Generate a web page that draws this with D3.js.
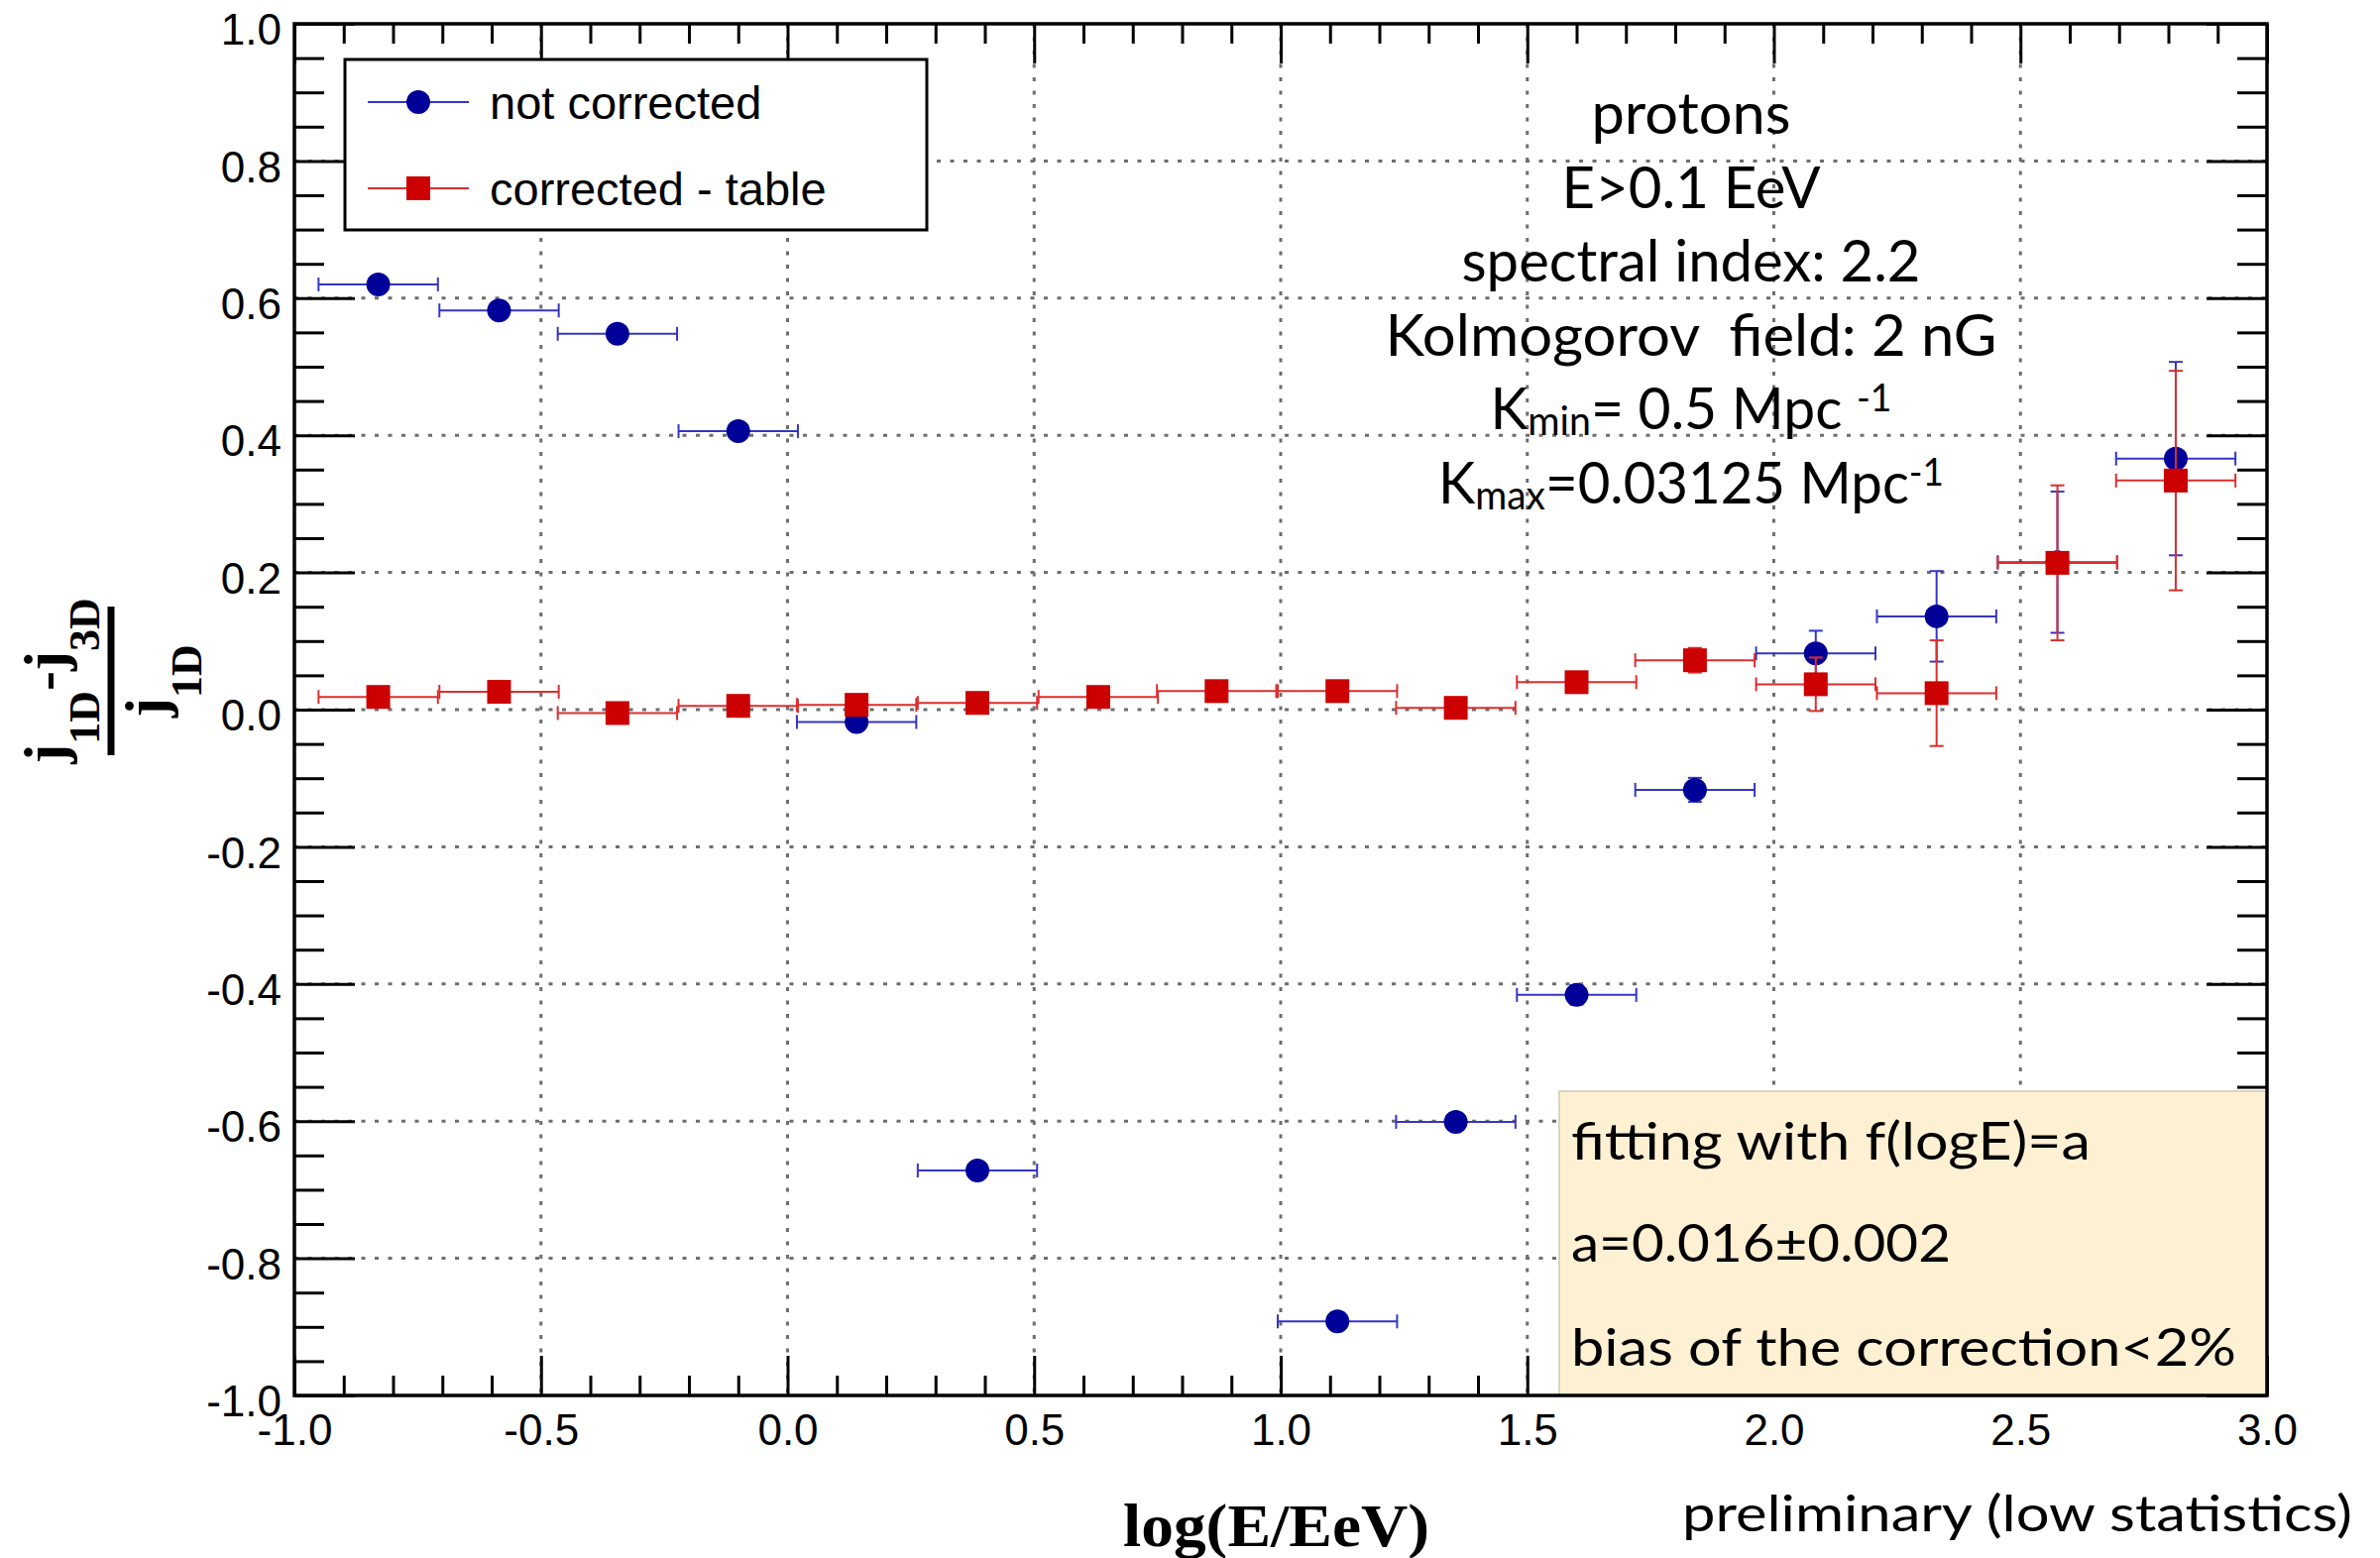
<!DOCTYPE html>
<html>
<head>
<meta charset="utf-8">
<script src="https://cdn.jsdelivr.net/npm/d3@7"></script>
<style>
  body { margin: 0; background: #fff; }
  svg { display: block; }
  text { white-space: pre; }
</style>
</head>
<body>
<div id="chart"></div>
<script>
// bin centres in log10(E/EeV), all bins share the same half width
const logE = [-0.83, -0.585, -0.345, -0.10, 0.14, 0.385, 0.63, 0.87, 1.115, 1.355, 1.60, 1.84, 2.085, 2.33, 2.575, 2.815];
const binHalfWidth = 0.121;

// (j1D - j3D) / j1D, null where the point is not on the plot
const notCorrected    = [0.620, 0.582, 0.548, 0.406, -0.018, -0.672, null, null, -0.892, -0.601, -0.416, -0.117, 0.082, 0.136, 0.215, 0.366];
const notCorrectedErr = [0.006, 0.006, 0.006, 0.007, 0.008, 0.010, null, null, 0.012, 0.012, 0.014, 0.0175, 0.033, 0.066, 0.103, 0.141];
const corrected       = [0.0185, 0.026, -0.005, 0.0055, 0.007, 0.0098, 0.0185, 0.027, 0.027, 0.0026, 0.040, 0.072, 0.037, 0.024, 0.214, 0.334];
const correctedErr    = [0.005, 0.005, 0.005, 0.005, 0.006, 0.006, 0.007, 0.008, 0.009, 0.010, 0.012, 0.018, 0.039, 0.077, 0.113, 0.160];

const xTickLabels = [-1.0, -0.5, 0.0, 0.5, 1.0, 1.5, 2.0, 2.5, 3.0];
const yTickLabels = [-1.0, -0.8, -0.6, -0.4, -0.2, 0.0, 0.2, 0.4, 0.6, 0.8, 1.0];
const xGrid = [-0.5, 0.0, 0.5, 1.0, 1.5, 2.0, 2.5];
const yGrid = [-0.8, -0.6, -0.4, -0.2, 0.0, 0.2, 0.4, 0.6, 0.8];

const legendLabels = ['not corrected', 'corrected - table'];

// text segments: [text, 'sub' | 'sup' | undefined]
const infoLines = [
    [['protons']],
    [['E>0.1 EeV']],
    [['spectral index: 2.2']],
    [['Kolmogorov  field: 2 nG']],
    [['K'], ['min', 'sub'], ['= 0.5 Mpc '], ['-1', 'sup']],
    [['K'], ['max', 'sub'], ['=0.03125 Mpc'], ['-1', 'sup']]
];
const fitLines = ['fitting with f(logE)=a', 'a=0.016\u00b10.002', 'bias of the correction<2%'];

document.addEventListener('DOMContentLoaded', function() {
    drawChart();
});

function drawChart() {
    const width = 2401;
    const height = 1572;
    const frame = { left: 297, right: 2287, top: 24, bottom: 1408 };
    const sansFont = 'Liberation Sans, Arial, Helvetica, sans-serif';
    const gillFont = 'Lato, "Open Sans", sans-serif';
    const serifFont = 'Liberation Serif, "Times New Roman", serif';

    const svg = d3.select('#chart')
        .append('svg')
        .attr('width', width)
        .attr('height', height);

    svg.append('rect').attr('width', width).attr('height', height).attr('fill', '#fff');

    const x = d3.scaleLinear().domain([-1, 3]).range([frame.left, frame.right]);
    const y = d3.scaleLinear().domain([-1, 1]).range([frame.bottom, frame.top]);

    const xMinor = d3.range(-10, 31).map(v => v / 10).filter(v => Math.round(v * 10) % 5 !== 0);
    const yMinor = d3.range(-20, 21).map(v => v / 20).filter(v => Math.round(v * 20) % 4 !== 0);

    // dotted grid
    const grid = svg.append('g')
        .attr('stroke', '#6e6e6e')
        .attr('stroke-width', 3)
        .attr('stroke-dasharray', '4 9.5');
    grid.selectAll('.vgrid').data(xGrid).join('line')
        .attr('class', 'vgrid')
        .attr('x1', d => x(d)).attr('x2', d => x(d))
        .attr('y1', frame.top).attr('y2', frame.bottom);
    grid.selectAll('.hgrid').data(yGrid).join('line')
        .attr('class', 'hgrid')
        .attr('x1', frame.left).attr('x2', frame.right)
        .attr('y1', d => y(d)).attr('y2', d => y(d));

    function styleAxis(g) {
        g.select('.domain').remove();
        g.selectAll('.tick line').attr('stroke', '#000').attr('stroke-width', 3);
        g.selectAll('.tick text')
            .attr('font-family', sansFont)
            .attr('font-size', 44)
            .attr('fill', '#000');
    }

    const fmt = d => d.toFixed(1);
    const noLabel = () => '';

    // bottom + top
    svg.append('g').attr('transform', `translate(0,${frame.bottom})`)
        .call(d3.axisBottom(x).tickValues(xTickLabels).tickSize(-40).tickPadding(19).tickFormat(fmt))
        .call(styleAxis);
    svg.append('g').attr('transform', `translate(0,${frame.bottom})`)
        .call(d3.axisBottom(x).tickValues(xMinor).tickSize(-20).tickFormat(noLabel))
        .call(styleAxis);
    svg.append('g').attr('transform', `translate(0,${frame.top})`)
        .call(d3.axisTop(x).tickValues(xTickLabels).tickSize(-40).tickFormat(noLabel))
        .call(styleAxis);
    svg.append('g').attr('transform', `translate(0,${frame.top})`)
        .call(d3.axisTop(x).tickValues(xMinor).tickSize(-20).tickFormat(noLabel))
        .call(styleAxis);

    // left + right
    svg.append('g').attr('transform', `translate(${frame.left},0)`)
        .call(d3.axisLeft(y).tickValues(yTickLabels).tickSize(-61).tickPadding(13).tickFormat(fmt))
        .call(styleAxis)
        .call(g => g.selectAll('.tick text').attr('dy', '0.47em'));
    svg.append('g').attr('transform', `translate(${frame.left},0)`)
        .call(d3.axisLeft(y).tickValues(yMinor).tickSize(-30).tickFormat(noLabel))
        .call(styleAxis);
    svg.append('g').attr('transform', `translate(${frame.right},0)`)
        .call(d3.axisRight(y).tickValues(yTickLabels).tickSize(-61).tickFormat(noLabel))
        .call(styleAxis);
    svg.append('g').attr('transform', `translate(${frame.right},0)`)
        .call(d3.axisRight(y).tickValues(yMinor).tickSize(-30).tickFormat(noLabel))
        .call(styleAxis);

    // data series
    drawSeries(svg, x, y, notCorrected, notCorrectedErr, '#000099', '#3535c4', 'circle');
    drawSeries(svg, x, y, corrected, correctedErr, '#cc0000', '#dc2e2e', 'square');

    // legend
    const legend = svg.append('g');
    legend.append('rect')
        .attr('x', 348).attr('y', 60).attr('width', 587).attr('height', 172)
        .attr('fill', '#fff').attr('stroke', '#000').attr('stroke-width', 3);
    const legendStyles = [
        { color: '#000099', bar: '#3535c4', shape: 'circle' },
        { color: '#cc0000', bar: '#dc2e2e', shape: 'square' }
    ];
    legendLabels.forEach((label, i) => {
        const cy = 103 + i * 87;
        const st = legendStyles[i];
        legend.append('line')
            .attr('x1', 371).attr('x2', 473).attr('y1', cy).attr('y2', cy)
            .attr('stroke', st.bar).attr('stroke-width', 2);
        appendMarker(legend, st.shape, 422, cy, st.color);
        legend.append('text')
            .attr('x', 494).attr('y', cy + 17)
            .attr('font-family', sansFont).attr('font-size', 47)
            .text(label);
    });

    // simulation info
    const infoCenter = 1706;
    const infoWidths = [201, 261, 463, 617, 405, 510];
    infoLines.forEach((segs, i) => {
        const base = 135 + i * 74.6;
        const t = svg.append('text')
            .attr('x', infoCenter - infoWidths[i] / 2)
            .attr('y', base)
            .attr('font-family', gillFont)
            .attr('font-size', 58)
            .attr('textLength', infoWidths[i])
            .attr('lengthAdjust', 'spacingAndGlyphs');
        let shift = 0;
        segs.forEach(([str, kind]) => {
            const target = kind === 'sub' ? 6 : kind === 'sup' ? -18 : 0;
            t.append('tspan')
                .attr('dy', target - shift)
                .attr('font-size', kind === 'sub' ? 40 : kind === 'sup' ? 38 : 58)
                .text(str);
            shift = target;
        });
    });

    // fit box
    svg.append('rect')
        .attr('x', 1573).attr('y', 1101)
        .attr('width', frame.right - 1573).attr('height', frame.bottom - 1101)
        .attr('fill', '#fef0d2')
        .attr('stroke', '#d9d4c8').attr('stroke-width', 2);
    const fitWidths = [524, 383, 671];
    fitLines.forEach((line, i) => {
        svg.append('text')
            .attr('x', 1585).attr('y', [1170, 1273, 1378][i])
            .attr('font-family', gillFont).attr('font-size', 52)
            .attr('textLength', fitWidths[i])
            .attr('lengthAdjust', 'spacingAndGlyphs')
            .text(line);
    });

    // frame on top
    svg.append('rect')
        .attr('x', frame.left).attr('y', frame.top)
        .attr('width', frame.right - frame.left).attr('height', frame.bottom - frame.top)
        .attr('fill', 'none').attr('stroke', '#000').attr('stroke-width', 3.5);

    // axis titles
    svg.append('text')
        .attr('x', 1133).attr('y', 1560)
        .attr('font-family', serifFont).attr('font-weight', 'bold').attr('font-size', 62)
        .attr('textLength', 309).attr('lengthAdjust', 'spacingAndGlyphs')
        .text('log(E/EeV)');

    svg.append('text')
        .attr('x', 1697).attr('y', 1545)
        .attr('font-family', gillFont).attr('font-size', 50)
        .attr('textLength', 676).attr('lengthAdjust', 'spacingAndGlyphs')
        .text('preliminary (low statistics)');

    drawYTitle(svg, serifFont);
}

function appendMarker(g, shape, cx, cy, color) {
    if (shape === 'circle') {
        g.append('circle').attr('cx', cx).attr('cy', cy).attr('r', 12).attr('fill', color);
    } else {
        g.append('rect').attr('x', cx - 12).attr('y', cy - 12)
            .attr('width', 24).attr('height', 24).attr('fill', color);
    }
}

function drawSeries(svg, x, y, values, errs, color, barColor, shape) {
    const pts = logE.map((v, i) => ({ x: v, y: values[i], e: errs[i] }))
        .filter(d => d.y !== null);
    const cap = 7;
    const g = svg.append('g');
    const bars = g.append('g').attr('stroke', barColor).attr('stroke-width', 2);

    pts.forEach(d => {
        const x0 = x(d.x - binHalfWidth), x1 = x(d.x + binHalfWidth);
        const y0 = y(d.y - d.e), y1 = y(d.y + d.e);
        const px = x(d.x), py = y(d.y);
        bars.append('line').attr('x1', x0).attr('x2', x1).attr('y1', py).attr('y2', py);
        bars.append('line').attr('x1', x0).attr('x2', x0).attr('y1', py - cap).attr('y2', py + cap);
        bars.append('line').attr('x1', x1).attr('x2', x1).attr('y1', py - cap).attr('y2', py + cap);
        bars.append('line').attr('x1', px).attr('x2', px).attr('y1', y0).attr('y2', y1);
        bars.append('line').attr('x1', px - cap).attr('x2', px + cap).attr('y1', y0).attr('y2', y0);
        bars.append('line').attr('x1', px - cap).attr('x2', px + cap).attr('y1', y1).attr('y2', y1);
    });

    pts.forEach(d => appendMarker(g, shape, x(d.x), y(d.y), color));
}

function drawYTitle(svg, serifFont) {
    // fraction written sideways, read from bottom to top
    const g = svg.append('g')
        .attr('transform', 'translate(112,687) rotate(-90)')
        .attr('font-family', serifFont)
        .attr('font-weight', 'bold');

    g.append('line')
        .attr('x1', -75).attr('x2', 75).attr('y1', 0).attr('y2', 0)
        .attr('stroke', '#000').attr('stroke-width', 7);

    const num = g.append('text').attr('x', 0).attr('y', -47)
        .attr('text-anchor', 'middle').attr('font-size', 60);
    num.append('tspan').text('j');
    num.append('tspan').attr('dy', 35).attr('font-size', 44).text('1D');
    num.append('tspan').attr('dy', -35).text('-');
    num.append('tspan').text('j');
    num.append('tspan').attr('dy', 35).attr('font-size', 44).text('3D');

    const den = g.append('text').attr('x', 0).attr('y', 55)
        .attr('text-anchor', 'middle').attr('font-size', 60);
    den.append('tspan').text('j');
    den.append('tspan').attr('dy', 36).attr('font-size', 44).text('1D');
}
</script>
</body>
</html>
